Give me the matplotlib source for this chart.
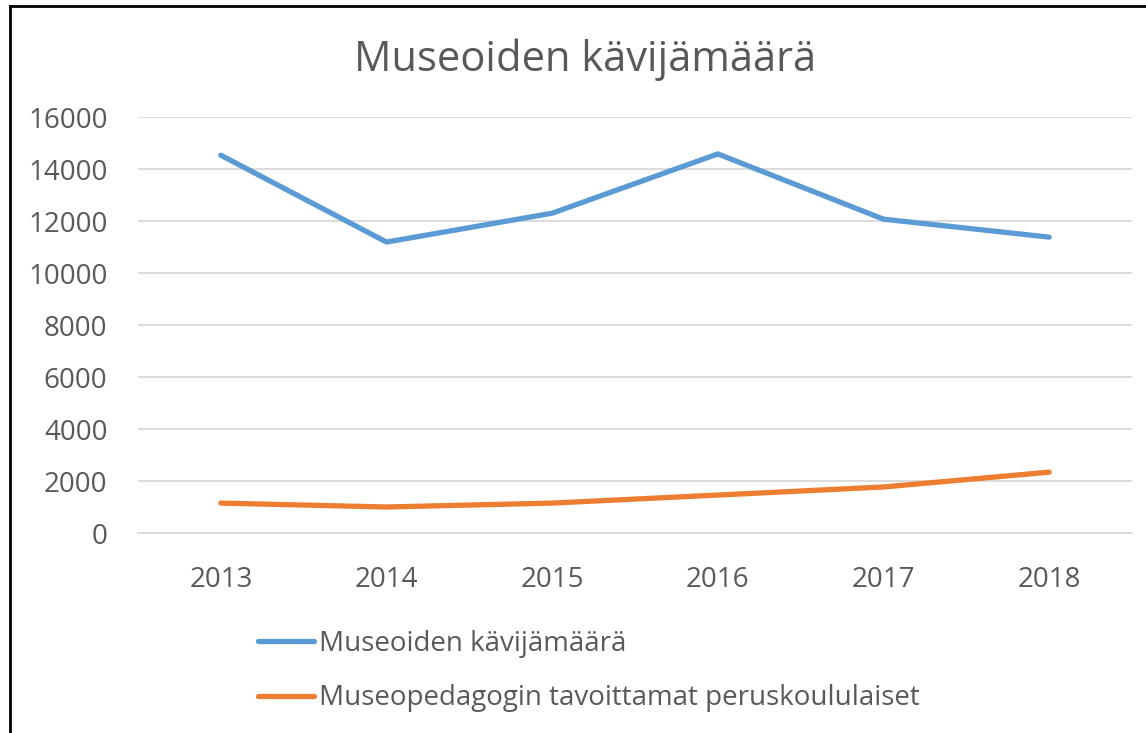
import matplotlib.pyplot as plt
from matplotlib.lines import Line2D

# data
years = ["2013", "2014", "2015", "2016", "2017", "2018"]
kavijat = [14530, 11190, 12300, 14580, 12070, 11380]
peruskoululaiset = [1150, 1000, 1150, 1460, 1770, 2340]
labels = ["Museoiden kävijämäärä", "Museopedagogin tavoittamat peruskoululaiset"]

plt.rcParams['font.family'] = ['Open Sans', 'DejaVu Sans']
grey = '#595959'

fig = plt.figure(figsize=(11.46, 7.33), dpi=100)
W, H = 1146, 733
ax = fig.add_axes([138 / W, 1 - 533 / H, (1132 - 138) / W, (533 - 117) / H])

x = range(len(years))
ax.plot(x, kavijat, color='#5B9BD5', lw=3.8, solid_capstyle='round', solid_joinstyle='round')
ax.plot(x, peruskoululaiset, color='#ED7D31', lw=3.8, solid_capstyle='round', solid_joinstyle='round')

ax.set_xlim(-0.5, len(years) - 0.5)
ax.set_ylim(0, 16000)
ax.set_yticks(range(0, 16001, 2000))
ax.set_xticks(list(x))
ax.set_xticklabels(years)
ax.grid(axis='y', color='#d9d9d9', lw=1.3)
ax.set_axisbelow(True)
for s in ['top', 'right', 'left']:
    ax.spines[s].set_visible(False)
ax.spines['bottom'].set_color('#d9d9d9')
ax.spines['bottom'].set_linewidth(1.3)
ax.tick_params(axis='both', length=0, labelsize=20, colors=grey)
ax.tick_params(axis='y', pad=22)
ax.tick_params(axis='x', pad=24)

fig.text(585 / W, 1 - 60 / H, "Museoiden kävijämäärä", ha='center', va='center',
         fontsize=30, color=grey)

handles = [Line2D([], [], color='#5B9BD5', lw=3.8, solid_capstyle='round'),
           Line2D([], [], color='#ED7D31', lw=3.8, solid_capstyle='round')]
leg = fig.legend(handles, labels, loc='upper left', bbox_to_anchor=(258 / W, 1 - 630 / H),
                 frameon=False, fontsize=20, handlelength=2.0, handletextpad=0.18,
                 labelspacing=0.95, borderpad=0, borderaxespad=0)
for t in leg.get_texts():
    t.set_color(grey)

# chart border
fig.add_artist(Line2D([10 / W, 10 / W], [0, 1 - 6 / H], color='black', lw=2))
fig.add_artist(Line2D([10 / W, 1], [1 - 6 / H, 1 - 6 / H], color='black', lw=2))

plt.savefig("out.png", dpi=100)
